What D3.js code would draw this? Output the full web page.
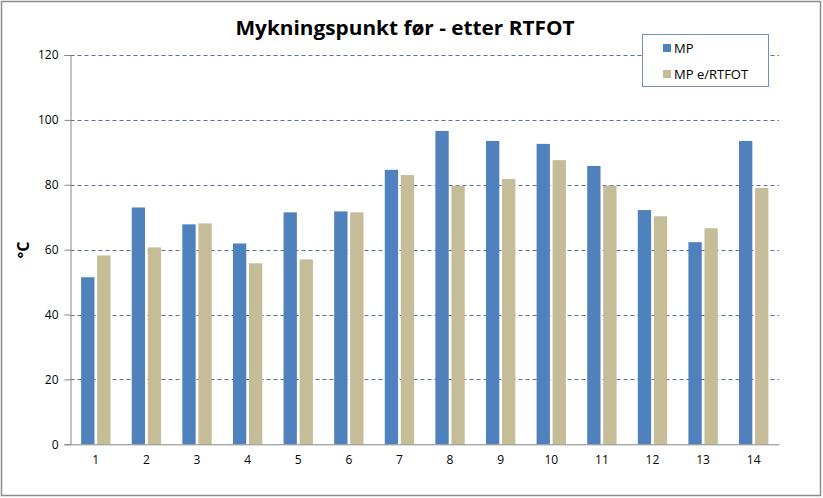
<!DOCTYPE html>
<html><head><meta charset="utf-8">
<script src="https://cdn.jsdelivr.net/npm/d3@7"></script>
<style>body{margin:0;background:#fff}svg{display:block}</style>
</head><body>
<svg id="c" width="823" height="498"></svg>
<script>
const categories = ["1","2","3","4","5","6","7","8","9","10","11","12","13","14"];
const mp = [51.5, 73.0, 67.8, 61.9, 71.5, 71.8, 84.6, 96.6, 93.5, 92.6, 85.8, 72.2, 62.3, 93.5];
const mpRtfot = [58.2, 60.7, 68.1, 55.8, 57.0, 71.5, 83.0, 79.7, 81.8, 87.6, 79.7, 70.3, 66.6, 79.0];
const seriesNames = ["MP", "MP e/RTFOT"];
const yTicks = [0, 20, 40, 60, 80, 100, 120];
const colors = ["#4f81bd", "#c4bd97"];

(function(){
const svg = d3.select("#c");
svg.append("rect").attr("x",1.5).attr("y",1.5).attr("width",819).attr("height",494)
  .attr("fill","#fff").attr("stroke","#8c8c8c").attr("stroke-width",1.5);

const pLeft = 70.5, pRight = 779, pTop = 55, pBottom = 444.3;
const x0 = d3.scaleBand().domain(categories).range([pLeft, pRight]).padding(0);
const bw = x0.bandwidth();
const x1 = d3.scaleBand().domain([0,1]).range([bw*0.21, bw*0.79]).paddingInner(0.17).paddingOuter(0);
const y = d3.scaleLinear().domain([0, 120]).range([pBottom, pTop]);

// gridlines
svg.append("g").selectAll("line").data(yTicks.filter(d=>d>0)).join("line")
  .attr("x1", pLeft).attr("x2", pRight)
  .attr("y1", d=>Math.round(y(d))+0.5).attr("y2", d=>Math.round(y(d))+0.5)
  .attr("stroke","#5a7396").attr("stroke-width",1).attr("stroke-dasharray","4,3");

// bars
const series = [mp, mpRtfot];
const g = svg.append("g");
categories.forEach((c, i) => {
  series.forEach((s, k) => {
    g.append("rect")
      .attr("x", x0(c) + x1(k))
      .attr("width", x1.bandwidth())
      .attr("y", y(s[i]))
      .attr("height", y(0) - y(s[i]))
      .attr("fill", colors[k]);
  });
});

// y axis
const yAxis = d3.axisLeft(y).tickValues(yTicks).tickSize(6).tickPadding(5);
const ya = svg.append("g").attr("transform", `translate(${pLeft},0)`).call(yAxis);
ya.select(".domain").attr("stroke","#868686");
ya.selectAll(".tick line").attr("stroke","#868686");
ya.selectAll("text").attr("font-family","'Open Sans', sans-serif").attr("font-size",12).attr("fill","#000")
  .attr("x", -12);

// x axis
const xAxis = d3.axisBottom(x0).tickSize(0).tickPadding(11);
const xa = svg.append("g").attr("transform", `translate(0,${pBottom})`).call(xAxis);
xa.select(".domain").attr("stroke","#868686");
xa.selectAll("text").attr("font-family","'Open Sans', sans-serif").attr("font-size",12).attr("fill","#000");

// title
svg.append("text").attr("x", 405).attr("y", 35).attr("text-anchor","middle")
  .attr("font-family","'Open Sans', sans-serif").attr("font-weight","bold").attr("font-size",20)
  .attr("textLength", 339).attr("lengthAdjust","spacingAndGlyphs")
  .text("Mykningspunkt før - etter RTFOT");

// y label
svg.append("text").attr("transform","translate(29,250) rotate(-90)").attr("text-anchor","middle")
  .attr("font-family","'Open Sans', sans-serif").attr("font-weight","bold").attr("font-size",16)
  .text("°C");

// legend
const lg = svg.append("g");
lg.append("rect").attr("x",642.5).attr("y",34.5).attr("width",126).attr("height",52)
  .attr("fill","#fff").attr("stroke","#6f8fc4").attr("stroke-width",1);
seriesNames.forEach((n, k) => {
  const yy = 48 + k*26;
  lg.append("rect").attr("x",663).attr("y",yy-4).attr("width",8).attr("height",8).attr("fill",colors[k]);
  lg.append("text").attr("x",674).attr("y",yy+5).attr("font-family","'Open Sans', sans-serif")
    .attr("font-size",13).attr("fill","#000").text(n);
});
})();
</script>
</body></html>
